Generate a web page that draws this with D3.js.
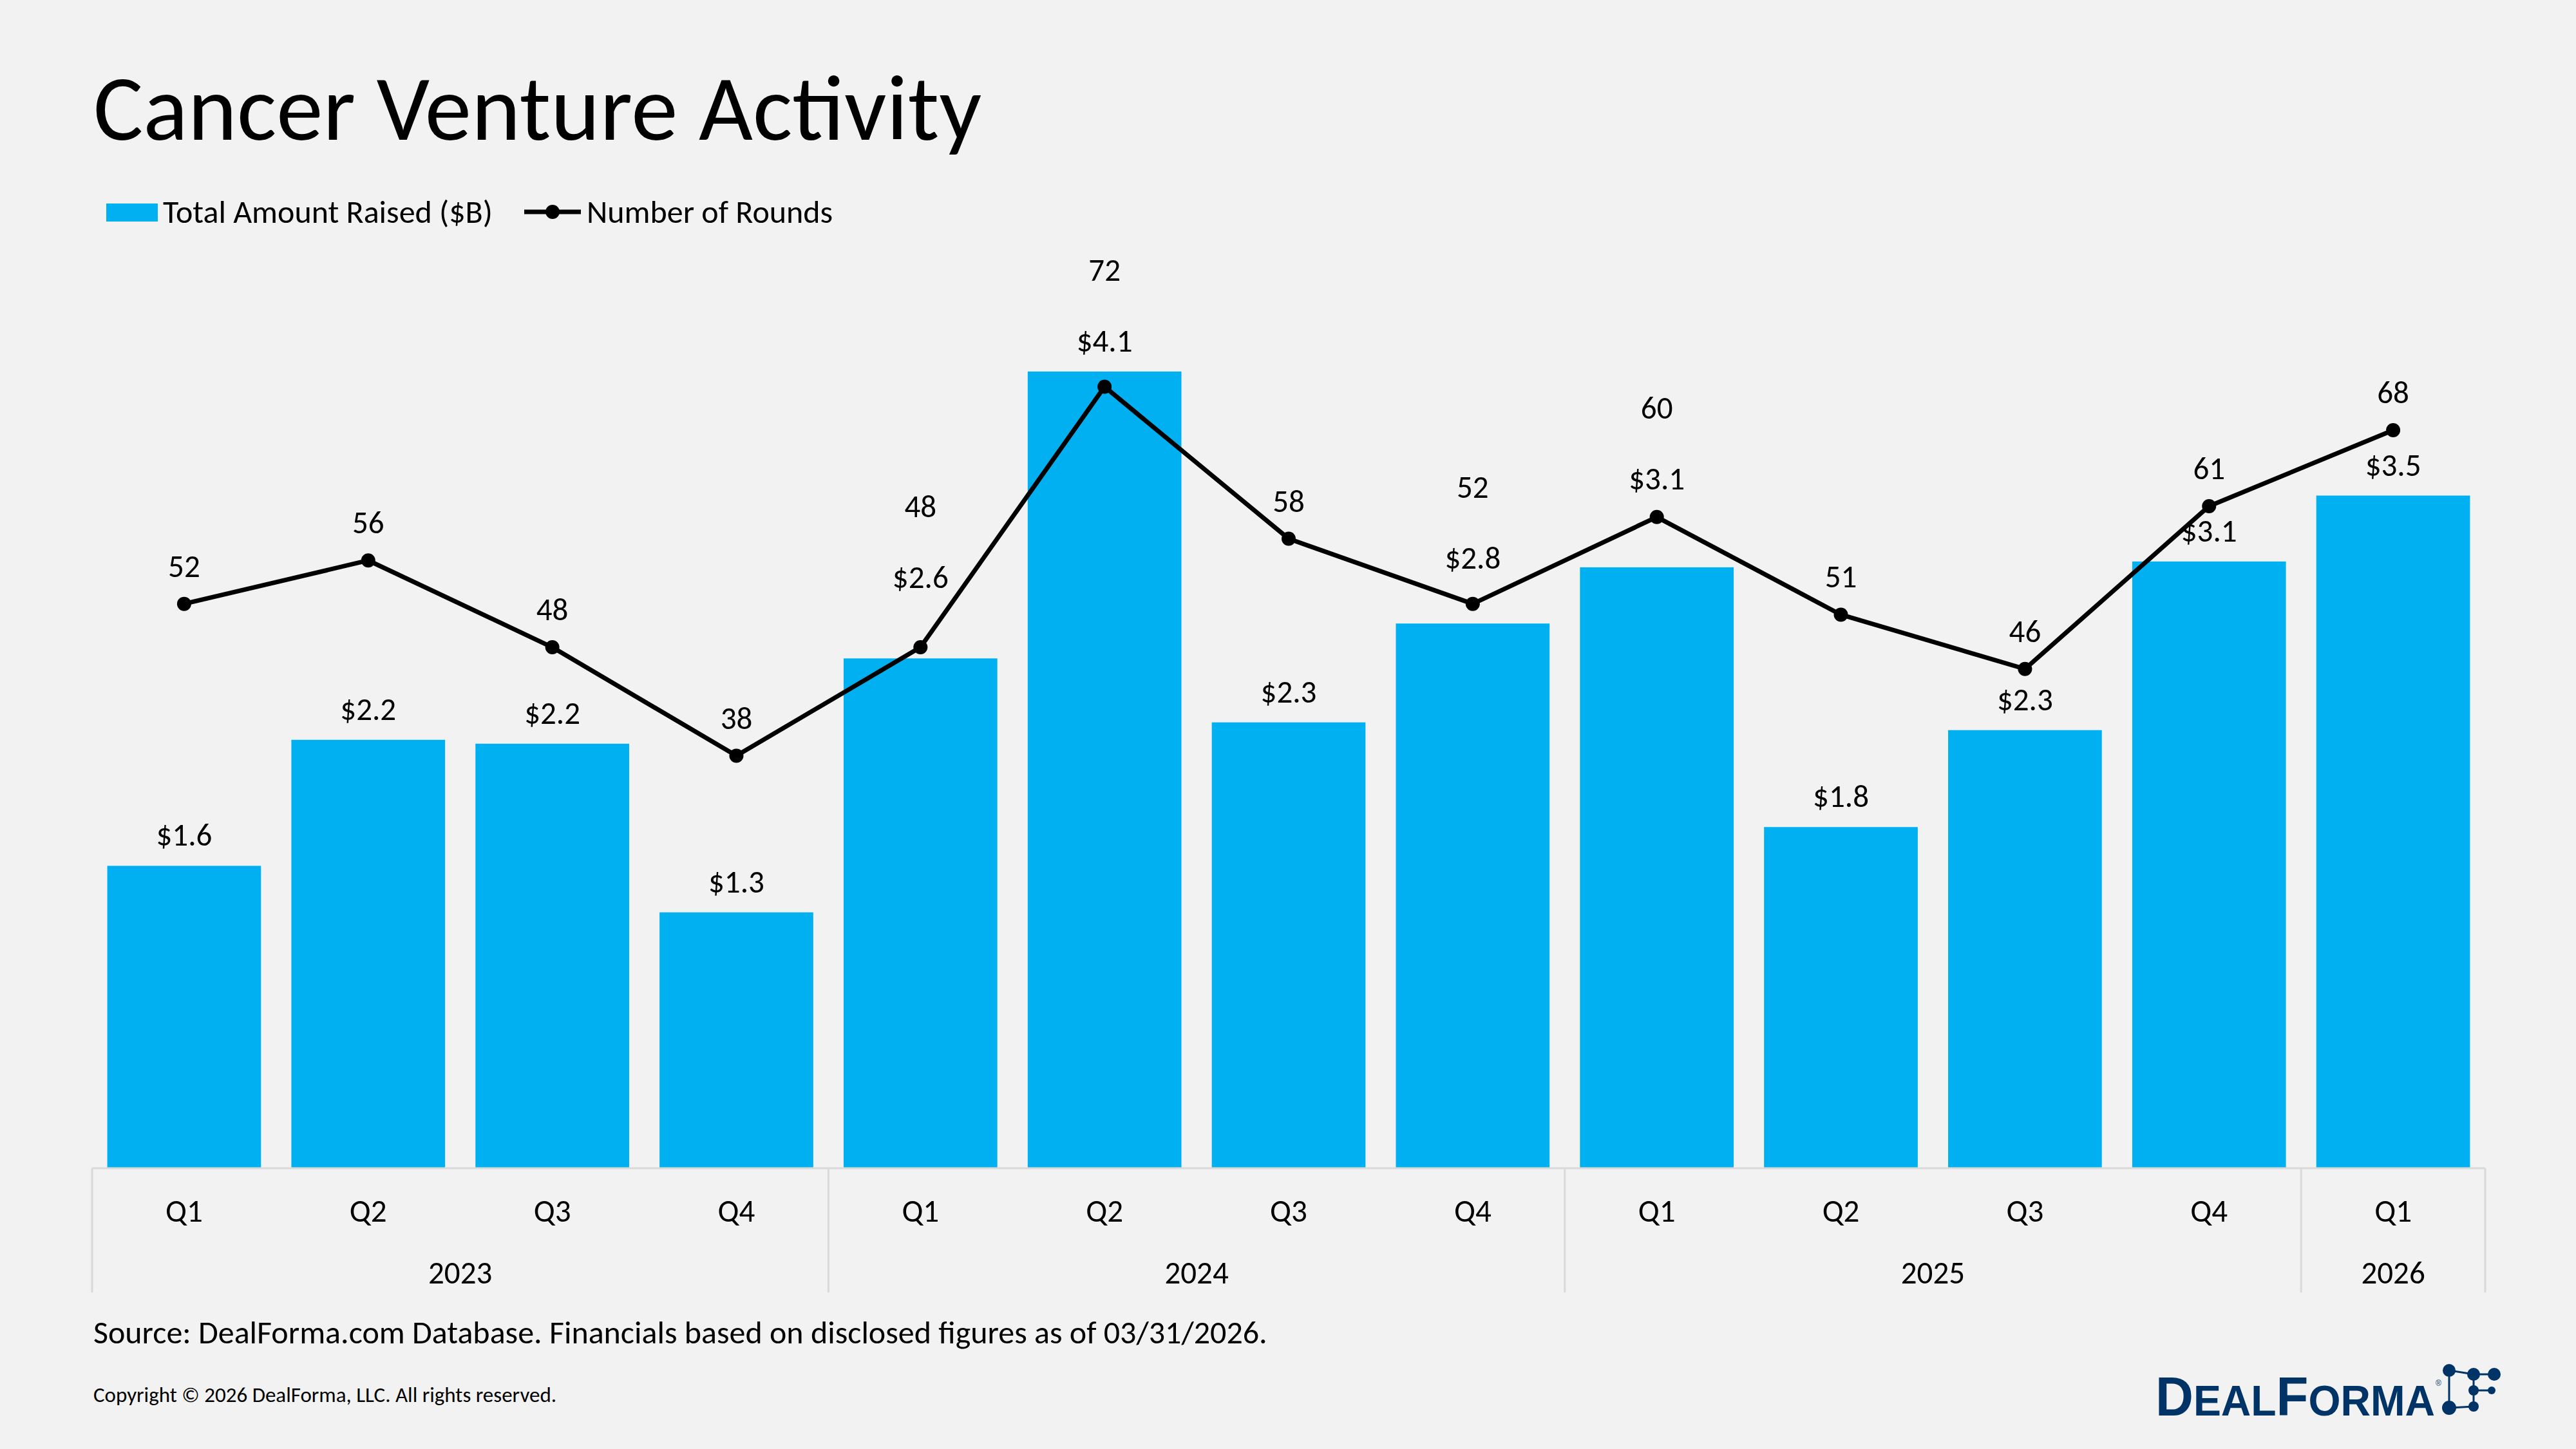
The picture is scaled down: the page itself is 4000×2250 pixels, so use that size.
<!DOCTYPE html>
<html lang="en">
<head>
<meta charset="UTF-8">
<title>Cancer Venture Activity</title>
<script src="https://d3js.org/d3.v7.min.js"></script>
<style>
    body { margin: 0; padding: 0; background: #f2f2f2; }
    svg { display: block; }
    text { font-family: Calibri, Carlito, Lato, sans-serif; fill: #000; }
</style>
</head>
<body>
<div id="chart"></div>
<script>
    // data
    const quarters = ["Q1", "Q2", "Q3", "Q4", "Q1", "Q2", "Q3", "Q4", "Q1", "Q2", "Q3", "Q4", "Q1"];
    const years = ["2023", "2023", "2023", "2023", "2024", "2024", "2024", "2024", "2025", "2025", "2025", "2025", "2026"];
    const amountRaised = [1.56, 2.21, 2.19, 1.32, 2.63, 4.11, 2.30, 2.81, 3.10, 1.76, 2.26, 3.13, 3.47];
    const rounds = [52, 56, 48, 38, 48, 72, 58, 52, 60, 51, 46, 61, 68];

    const W = 4000, H = 2250;
    const plotLeft = 143, plotRight = 3859, plotBottom = 1814, plotTop = 309;
    const barColor = "#00b0f0";
    const axisColor = "#d9d9d9";
    const labelSize = 49;

    const keys = quarters.map((q, i) => years[i] + " " + q);

    const svg = d3.select("#chart").append("svg")
        .attr("width", W)
        .attr("height", H);

    svg.append("rect").attr("width", W).attr("height", H).attr("fill", "#f2f2f2");

    // title
    svg.append("text")
        .attr("x", 145).attr("y", 217)
        .attr("font-size", 145)
        .text("Cancer Venture Activity");

    // legend
    const legend = svg.append("g");
    legend.append("rect")
        .attr("x", 165).attr("y", 316).attr("width", 80).attr("height", 28)
        .attr("fill", barColor);
    legend.append("text")
        .attr("x", 253).attr("y", 346).attr("font-size", 50)
        .text("Total Amount Raised ($B)");
    legend.append("line")
        .attr("x1", 814).attr("x2", 902).attr("y1", 329).attr("y2", 329)
        .attr("stroke", "#000").attr("stroke-width", 7);
    legend.append("circle")
        .attr("cx", 858).attr("cy", 329).attr("r", 11).attr("fill", "#000");
    legend.append("text")
        .attr("x", 911).attr("y", 346).attr("font-size", 50)
        .text("Number of Rounds");

    // scales
    const x = d3.scaleBand()
        .domain(keys)
        .range([plotLeft, plotRight])
        .paddingInner(0.165)
        .paddingOuter(0.0825);

    const yBar = d3.scaleLinear().domain([0, 5]).range([plotBottom, plotTop]);
    const yLine = d3.scaleLinear().domain([0, 89.3]).range([plotBottom, plotTop]);

    // bars
    svg.selectAll(".bar")
        .data(amountRaised)
        .enter()
        .append("rect")
        .attr("class", "bar")
        .attr("x", (d, i) => x(keys[i]))
        .attr("y", d => yBar(d))
        .attr("width", x.bandwidth())
        .attr("height", d => plotBottom - yBar(d))
        .attr("fill", barColor);

    // x axis: quarter row
    const xAxis = svg.append("g")
        .attr("transform", `translate(0,${plotBottom})`)
        .call(d3.axisBottom(x).tickSize(0).tickPadding(0).tickFormat((d, i) => quarters[i]));
    xAxis.select(".domain").remove();
    xAxis.selectAll("text")
        .attr("y", 83).attr("dy", null)
        .attr("font-size", labelSize)
        .attr("font-family", "Calibri, Carlito, Lato, sans-serif")
        .attr("fill", "#000");

    svg.append("line")
        .attr("x1", plotLeft).attr("x2", plotRight).attr("y1", plotBottom).attr("y2", plotBottom)
        .attr("stroke", axisColor).attr("stroke-width", 3);

    // x axis: year row with separators
    const step = x.step();
    const yearGroups = d3.groups(keys.map((k, i) => ({ k, year: years[i] })), d => d.year);
    const bounds = [plotLeft];
    yearGroups.forEach(([year, items]) => {
        const x0 = x(items[0].k) - step * x.paddingInner() / 2;
        const x1 = x0 + step * items.length;
        bounds.push(Math.min(x1, plotRight));
        svg.append("text")
            .attr("x", (x0 + x1) / 2).attr("y", 1993)
            .attr("text-anchor", "middle")
            .attr("font-size", labelSize)
            .text(year);
    });
    svg.selectAll(".sep")
        .data(bounds)
        .enter()
        .append("line")
        .attr("class", "sep")
        .attr("x1", d => d).attr("x2", d => d)
        .attr("y1", plotBottom).attr("y2", 2007)
        .attr("stroke", axisColor).attr("stroke-width", 3);

    // line series
    const cx = i => x(keys[i]) + x.bandwidth() / 2;
    const cy = i => yLine(rounds[i]);
    const line = d3.line()
        .x((d, i) => cx(i))
        .y(d => yLine(d));

    svg.append("path")
        .datum(rounds)
        .attr("fill", "none")
        .attr("stroke", "#000")
        .attr("stroke-width", 7)
        .attr("stroke-linejoin", "round")
        .attr("d", line);

    svg.selectAll(".dot")
        .data(rounds)
        .enter()
        .append("circle")
        .attr("class", "dot")
        .attr("cx", (d, i) => cx(i))
        .attr("cy", d => yLine(d))
        .attr("r", 11)
        .attr("fill", "#000");

    // y of the line at a given x near point i
    function lineYAt(i, px) {
        const j = px < cx(i) ? i - 1 : i + 1;
        if (j < 0 || j >= rounds.length) return cy(i);
        const t = (px - cx(i)) / (cx(j) - cx(i));
        return cy(i) + t * (cy(j) - cy(i));
    }

    // data labels: bars, lifted clear of the line when the marker sits on them
    const capH = 40, halfW = 40;
    const barLabelBase = amountRaised.map((d, i) => {
        const base = yBar(d) - 31;
        const markerTop = cy(i) - 11, markerBottom = cy(i) + 11;
        if (markerBottom > base - capH && markerTop < base + 10) {
            const clear = Math.min(markerTop, lineYAt(i, cx(i) - halfW) - 3.5, lineYAt(i, cx(i) + halfW) - 3.5);
            return clear - 32;
        }
        return base;
    });
    svg.selectAll(".barLabel")
        .data(amountRaised)
        .enter()
        .append("text")
        .attr("class", "barLabel")
        .attr("x", (d, i) => cx(i))
        .attr("y", (d, i) => barLabelBase[i])
        .attr("text-anchor", "middle")
        .attr("font-size", labelSize)
        .text(d => "$" + d.toFixed(1));

    // data labels: rounds, pushed above the bar label when they would collide
    svg.selectAll(".lineLabel")
        .data(rounds)
        .enter()
        .append("text")
        .attr("class", "lineLabel")
        .attr("x", (d, i) => cx(i))
        .attr("y", (d, i) => {
            const base = cy(i) - 42;
            return Math.abs(base - barLabelBase[i]) < 60 ? barLabelBase[i] - 110 : base;
        })
        .attr("text-anchor", "middle")
        .attr("font-size", labelSize)
        .text(d => d);

    // footer
    svg.append("text")
        .attr("x", 145).attr("y", 2086).attr("font-size", 50)
        .text("Source: DealForma.com Database. Financials based on disclosed figures as of 03/31/2026.");
    svg.append("text")
        .attr("x", 145).attr("y", 2177).attr("font-size", 33)
        .text("Copyright \u00a9 2026 DealForma, LLC. All rights reserved.");

    // logo
    const navy = "#003366";
    const logo = svg.append("g");
    const word = logo.append("text")
        .attr("x", 3347).attr("y", 2198)
        .attr("textLength", 434).attr("lengthAdjust", "spacingAndGlyphs")
        .attr("font-family", "'Liberation Sans', Arial, sans-serif")
        .attr("font-weight", "bold")
        .style("fill", navy);
    [["D", 85], ["EAL", 67], ["F", 85], ["ORMA", 67]].forEach(([t, s]) => {
        word.append("tspan").attr("font-size", s).style("font-family", "'Liberation Sans', Arial, sans-serif").text(t);
    });
    logo.append("text")
        .attr("x", 3782).attr("y", 2152).attr("font-size", 12)
        .style("font-family", "'Liberation Sans', Arial, sans-serif")
        .style("fill", navy)
        .text("\u00ae");

    const nodes = [[3803, 2128, 10], [3841, 2134, 10], [3873, 2134, 10], [3841, 2159, 8], [3869, 2159, 6], [3803, 2186, 11], [3841, 2184, 8]];
    const links = [[0, 5], [0, 1], [1, 2], [1, 6], [3, 4], [5, 6]];
    logo.selectAll(".link")
        .data(links)
        .enter()
        .append("line")
        .attr("x1", d => nodes[d[0]][0]).attr("y1", d => nodes[d[0]][1])
        .attr("x2", d => nodes[d[1]][0]).attr("y2", d => nodes[d[1]][1])
        .attr("stroke", navy).attr("stroke-width", 3);
    logo.selectAll(".node")
        .data(nodes)
        .enter()
        .append("circle")
        .attr("cx", d => d[0]).attr("cy", d => d[1]).attr("r", d => d[2])
        .attr("fill", navy);
</script>
</body>
</html>
